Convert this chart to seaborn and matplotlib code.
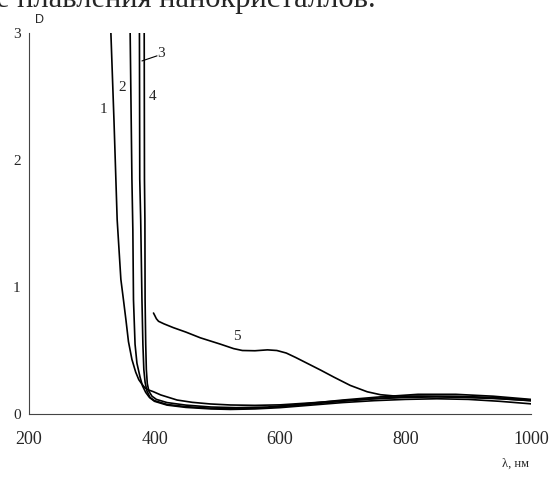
import numpy as np
import pandas as pd
import matplotlib
matplotlib.use("Agg")
import matplotlib.pyplot as plt
import seaborn as sns

# ===============================
# Data (wavelength, nm -> optical density D)
# ===============================
wl_1 = [330.5, 335.5, 340.5, 346.4, 350.5, 354.5, 358.5, 364, 370, 375, 380, 385, 390, 398,
        410, 436, 460, 489, 521, 560, 600, 650, 700, 750, 800, 850, 900, 950, 1000]
d_1 = [3.0, 2.3, 1.53, 1.06, 0.90, 0.74, 0.57, 0.43, 0.33, 0.27, 0.235, 0.205, 0.19, 0.176,
       0.15, 0.11, 0.092, 0.079, 0.071, 0.068, 0.072, 0.088, 0.105, 0.12, 0.13, 0.135, 0.13,
       0.12, 0.105]

wl_2 = [361.2, 364, 365.5, 366.5, 369, 372, 377, 381, 386, 392, 400, 420, 450, 490, 521,
        560, 600, 650, 700, 750, 800, 850, 900, 950, 1000]
d_2 = [3.0, 1.85, 1.45, 0.90, 0.55, 0.40, 0.29, 0.22, 0.17, 0.13, 0.10, 0.07, 0.052, 0.04,
       0.036, 0.04, 0.05, 0.07, 0.09, 0.105, 0.115, 0.12, 0.115, 0.10, 0.08]

wl_3 = [376, 376.5, 378, 380, 381.5, 383, 385, 388, 393, 400, 420, 450, 490, 530, 580, 630,
        700, 760, 820, 880, 940, 1000]
d_3 = [3.0, 1.85, 1.53, 0.90, 0.55, 0.35, 0.25, 0.18, 0.13, 0.105, 0.075, 0.058, 0.045,
       0.042, 0.05, 0.07, 0.10, 0.125, 0.14, 0.14, 0.13, 0.11]

wl_4 = [383.6, 384, 384.7, 385, 386, 387, 388.5, 391, 396, 403, 420, 450, 490, 530, 580,
        630, 700, 760, 820, 880, 940, 1000]
d_4 = [3.0, 1.85, 1.53, 0.90, 0.55, 0.35, 0.24, 0.18, 0.14, 0.115, 0.09, 0.07, 0.055, 0.05,
       0.055, 0.075, 0.11, 0.135, 0.155, 0.155, 0.14, 0.115]

wl_5 = [398.4, 400.5, 403, 406.4, 415, 430, 450, 473, 505, 526, 540, 560, 580, 595, 610,
        625, 645, 665, 686, 712, 739, 760, 782, 820, 880, 940, 1000]
d_5 = [0.795, 0.775, 0.75, 0.73, 0.71, 0.68, 0.645, 0.60, 0.55, 0.515, 0.50, 0.498, 0.505,
       0.50, 0.48, 0.445, 0.395, 0.345, 0.29, 0.225, 0.175, 0.152, 0.142, 0.14, 0.135, 0.125,
       0.105]

curve_names = ["1", "2", "3", "4", "5"]
x_ticks = [200, 400, 600, 800, 1000]
y_ticks = [0, 1, 2, 3]

# curve label positions (data units)
label_pos = {"1": (318, 2.40), "2": (348, 2.57), "4": (397.5, 2.50), "3": (411, 2.84),
             "5": (531.5, 0.61)}

frames = []
for name, wl, d in zip(curve_names, [wl_1, wl_2, wl_3, wl_4, wl_5],
                       [d_1, d_2, d_3, d_4, d_5]):
    frames.append(pd.DataFrame({"wl": wl, "D": d, "curve": name}))
df = pd.concat(frames, ignore_index=True)

# ===============================
# Plot
# ===============================
sns.set_style("white")
plt.rcParams["font.family"] = ["Liberation Serif", "DejaVu Serif"]

fig = plt.figure(figsize=(5.51, 4.79), dpi=100)
ax = fig.add_axes([29 / 551, 65 / 479, 502 / 551, 381 / 479])

sns.lineplot(data=df, x="wl", y="D", units="curve", estimator=None, sort=False,
             color="black", linewidth=1.2, ax=ax)

ax.set_xlim(200, 1000)
ax.set_ylim(0, 3)
ax.set_xticks(x_ticks)
ax.set_yticks(y_ticks)
ax.set_xlabel("")
ax.set_ylabel("")
ax.tick_params(axis="x", direction="in", length=8, width=0.8, pad=12, labelsize=13,
               color="#333333")
ax.tick_params(axis="y", direction="in", length=7, width=0.8, pad=6, labelsize=11,
               color="#333333")

for side in ["top", "right"]:
    ax.spines[side].set_visible(False)
for side in ["left", "bottom"]:
    ax.spines[side].set_linewidth(0.8)
    ax.spines[side].set_color("#444444")

for name, (lx, ly) in label_pos.items():
    ax.text(lx, ly, name, fontsize=11, ha="center", va="center")
ax.plot([380, 404], [2.78, 2.82], color="black", linewidth=0.8)

fig.text(40 / 551, 1 - 20 / 479, "D", fontsize=9, ha="center", va="center",
         family=["Liberation Sans", "DejaVu Sans"])
fig.text(515 / 551, 1 - 464 / 479, "λ, нм", fontsize=9, ha="center", va="center")

# top line of the source document, cut by the frame
fig.text(-0.008, 1 - 7 / 479, "е плавления нанокристаллов.", fontsize=22,
         ha="left", va="baseline")

fig.savefig("out.png", dpi=100, facecolor="white")
